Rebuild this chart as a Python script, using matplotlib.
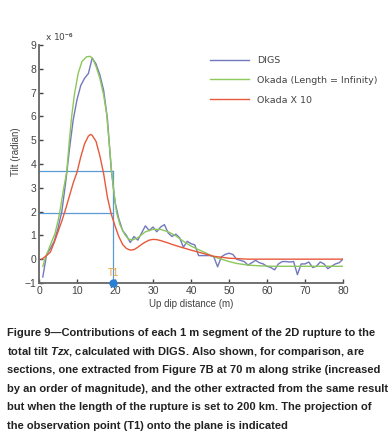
import matplotlib
matplotlib.use("Agg")
import matplotlib.pyplot as plt
import numpy as np

plt.rcParams['font.family'] = ['Liberation Sans', 'DejaVu Sans']
plt.rcParams['mathtext.fontset'] = 'custom'
plt.rcParams['mathtext.it'] = 'Liberation Sans:italic:bold'
plt.rcParams['mathtext.rm'] = 'Liberation Sans:bold'

# DIGS: one value per 1 m segment
digs_x = list(range(1, 81))
digs_y = [-0.75, 0.2, 0.45, 0.75, 1.3, 2.0, 3.2, 4.6, 5.85, 6.7,
          7.3, 7.6, 7.8, 8.45, 8.2, 7.75, 7.1, 5.9, 3.8, 2.4,
          1.7, 1.2, 1.0, 0.7, 0.95, 0.8, 1.1, 1.4, 1.2, 1.35,
          1.15, 1.35, 1.45, 1.1, 0.95, 1.05, 0.9, 0.5, 0.75, 0.65,
          0.6, 0.15, 0.15, 0.15, 0.15, 0.1, -0.32, 0.1, 0.2, 0.25,
          0.2, 0.0, -0.05, -0.1, -0.25, -0.15, -0.05, -0.15, -0.2, -0.3,
          -0.35, -0.45, -0.2, -0.1, -0.1, -0.12, -0.1, -0.65, -0.2, -0.2,
          -0.12, -0.35, -0.3, -0.12, -0.2, -0.4, -0.3, -0.2, -0.15, 0.0]

okada_inf_x = [1, 1.6, 2.4, 3, 4.2, 5, 5.5, 6.3, 7.3, 8, 8.6, 9.3, 10.3, 11.3,
               12.5, 13.5, 14.2, 15, 16, 17, 17.8, 18.4, 19.1, 19.8, 20.4, 21.3,
               22.5, 23.5, 24.5, 26, 28, 30, 32, 34, 36, 38, 40, 42, 44, 46,
               48, 50, 52, 55, 58, 62, 80]
okada_inf_y = [-0.3, 0.03, 0.35, 0.6, 1.08, 1.6, 2.0, 2.8, 3.67, 5.0, 6.0, 6.9,
               7.8, 8.3, 8.5, 8.52, 8.4, 8.1, 7.6, 6.9, 6.1, 5.0, 3.7, 2.7, 1.96,
               1.45, 1.05, 0.85, 0.8, 0.9, 1.15, 1.25, 1.25, 1.15, 0.98, 0.75,
               0.55, 0.4, 0.25, 0.1, 0.0, -0.1, -0.18, -0.25, -0.28, -0.3, -0.3]

okada10_x = [0.7, 2, 3, 4, 5, 6, 7, 8, 9, 10, 11, 12, 13, 13.6, 14, 15, 16,
             17, 18, 19, 20, 21, 22, 23, 24, 25, 26, 27, 28, 29, 30, 31, 32,
             33, 34, 35, 37, 40, 43, 46, 50, 55, 80]
okada10_y = [0.0, 0.15, 0.3, 0.7, 1.15, 1.6, 2.1, 2.65, 3.2, 3.65, 4.3, 4.85,
             5.17, 5.24, 5.2, 4.95, 4.35, 3.6, 2.6, 1.9, 1.4, 0.95, 0.62, 0.45,
             0.38, 0.4, 0.5, 0.62, 0.72, 0.8, 0.83, 0.82, 0.78, 0.73, 0.68,
             0.62, 0.52, 0.38, 0.25, 0.12, 0.04, 0.0, 0.0]

t1_x = 19.5
levels = [3.7, 1.95]

fig = plt.figure(figsize=(3.92, 4.36), dpi=100)
ax = fig.add_axes([0.0995, 0.351, 0.7755, 0.546])

guide = '#5b9bd5'
for lv in levels:
    ax.plot([0, t1_x], [lv, lv], color=guide, lw=0.9)
ax.plot([t1_x, t1_x], [-1, max(levels)], color=guide, lw=0.9)

ax.plot(digs_x, digs_y, color='#7278bd', lw=1.0, label='DIGS')
ax.plot(okada_inf_x, okada_inf_y, color='#8cc85a', lw=1.0,
        label='Okada (Length = Infinity)')
ax.plot(okada10_x, okada10_y, color='#e8583a', lw=1.0, label='Okada X 10')

ax.plot([t1_x], [-1], 'o', color='#2a7fd4', ms=5, clip_on=False, zorder=5)
ax.text(t1_x, -0.6, 'T1', color='#e8a33c', fontsize=7, ha='center', va='center')

ax.set_xlim(0, 80)
ax.set_ylim(-1, 9)
ax.set_xticks(range(0, 81, 10))
ax.set_yticks(range(-1, 10))
ax.tick_params(direction='in', labelsize=7.5, colors='#444444', length=3,
               width=1.0, pad=2)
for s in ['top', 'right']:
    ax.spines[s].set_visible(False)
for s in ['left', 'bottom']:
    ax.spines[s].set_color('#666666')
    ax.spines[s].set_linewidth(1.3)

ax.set_xlabel('Up dip distance (m)', fontsize=7, color='#444444', labelpad=2)
ax.set_ylabel('Tilt (radian)', fontsize=7, color='#444444', labelpad=4)
ax.yaxis.set_label_coords(-0.06, 0.55)
ax.text(0.02, 1.01, r'x 10$^{-6}$', transform=ax.transAxes, fontsize=6.5,
        color='#444444', va='bottom', ha='left', family='DejaVu Sans')

leg = ax.legend(loc='upper left', bbox_to_anchor=(0.536, 0.872),
                bbox_transform=fig.transFigure, frameon=False, borderpad=0,
                borderaxespad=0, handlelength=4.1, handletextpad=0.9,
                labelspacing=1.15, prop={'family': 'DejaVu Sans', 'size': 6.8})
for t in leg.get_texts():
    t.set_color('#444444')

caption = [
    'Figure 9\u2014Contributions of each 1 m segment of the 2D rupture to the',
    r'total tilt $Tzx$, calculated with DIGS. Also shown, for comparison, are',
    'sections, one extracted from Figure 7B at 70 m along strike (increased',
    'by an order of magnitude), and the other extracted from the same result',
    'but when the length of the rupture is set to 200 km. The projection of',
    'the observation point (T1) onto the plane is indicated',
]
for i, line in enumerate(caption):
    fig.text(7 / 392, 1 - (333 + i * 18.6) / 436, line, fontsize=8.05,
             fontweight='bold', color='#222222', ha='left', va='center')

fig.savefig('out.png', dpi=100)
